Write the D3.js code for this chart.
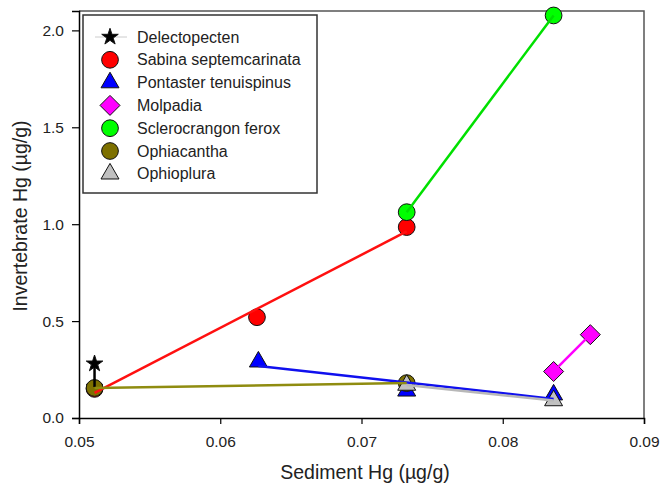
<!DOCTYPE html>
<html>
<head>
<meta charset="utf-8">
<script src="https://cdn.jsdelivr.net/npm/d3@7"></script>
<style>
  body { margin: 0; background: #fff; }
  text { font-family: "Liberation Sans", Arial, sans-serif; }
</style>
</head>
<body>
<script>
// Species in legend order
var species = ["Delectopecten", "Sabina septemcarinata", "Pontaster tenuispinus",
               "Molpadia", "Sclerocrangon ferox", "Ophiacantha", "Ophioplura"];

// Sediment Hg (x) and invertebrate Hg (y) per species
var delectoX = [0.0511, 0.0511];
var delectoY = [0.28, 0.16];
var sabinaX = [0.0511, 0.0626, 0.0732];
var sabinaY = [0.15, 0.52, 0.985];
var pontasterX = [0.0627, 0.0732, 0.0836];
var pontasterY = [0.29, 0.14, 0.12];
var molpadiaX = [0.0836, 0.0862];
var molpadiaY = [0.24, 0.43];
var scleroX = [0.0732, 0.0836];
var scleroY = [1.062, 2.077];
var ophiacanthaX = [0.0511, 0.0732];
var ophiacanthaY = [0.155, 0.18];
var ophioX = [0.0732, 0.0836];
var ophioY = [0.17, 0.09];

var xTicks = [0.05, 0.06, 0.07, 0.08, 0.09];
var yTicks = [0, 0.5, 1.0, 1.5, 2.0];

// square turned 45 degrees, like the reference diamonds
var symbolRhombus = {
  draw: function(ctx, size){
    var r = Math.sqrt(size / 2);
    ctx.moveTo(0, -r); ctx.lineTo(r, 0); ctx.lineTo(0, r); ctx.lineTo(-r, 0); ctx.closePath();
  }
};

var series = [
  {name: species[0], xs: delectoX, ys: delectoY, sym: d3.symbolStar, size: 85, fill: "#000", line: "#000"},
  {name: species[1], xs: sabinaX, ys: sabinaY, sym: d3.symbolCircle, size: 220, fill: "#ff0000", line: "#ff1010"},
  {name: species[2], xs: pontasterX, ys: pontasterY, sym: d3.symbolTriangle, size: 140, fill: "#0000ff", line: "#1010ee"},
  {name: species[3], xs: molpadiaX, ys: molpadiaY, sym: symbolRhombus, size: 200, fill: "#ff00ff", line: "#ff00ff"},
  {name: species[4], xs: scleroX, ys: scleroY, sym: d3.symbolCircle, size: 220, fill: "#00ff00", line: "#00e000"},
  {name: species[5], xs: ophiacanthaX, ys: ophiacanthaY, sym: d3.symbolCircle, size: 220, fill: "#7d7000", line: "#8f8c10"},
  {name: species[6], xs: ophioX, ys: ophioY, sym: d3.symbolTriangle, size: 140, fill: "#c0c0c0", line: "#b8b8b8"}
];

var svg = d3.select("body").append("svg").attr("width", 660).attr("height", 485);

var mLeft = 79, mRight = 644, mTop = 11, mBottom = 418;
var x = d3.scaleLinear().domain([0.05, 0.09]).range([mLeft, mRight]);
var y = d3.scaleLinear().domain([0, 2.1]).range([mBottom, mTop]);

// frame (top and right)
svg.append("path")
  .attr("d", "M" + mLeft + "," + mTop + "H" + mRight + "V" + mBottom)
  .attr("fill", "none").attr("stroke", "#555").attr("stroke-width", 1.5);

var xAxis = svg.append("g").attr("transform", "translate(0," + mBottom + ")")
  .call(d3.axisBottom(x).tickValues(xTicks).tickFormat(d3.format(".2f")).tickSizeOuter(0).tickSize(6).tickPadding(12));
var yAxis = svg.append("g").attr("transform", "translate(" + mLeft + ",0)")
  .call(d3.axisLeft(y).tickValues(yTicks).tickFormat(d3.format(".1f")).tickSizeOuter(0).tickSize(7).tickPadding(8));
[xAxis, yAxis].forEach(function(a){
  a.select(".domain").attr("stroke", "#000").attr("stroke-width", 1.5);
  a.selectAll(".tick line").attr("stroke", "#000").attr("stroke-width", 1.2);
  a.selectAll("text").attr("font-size", 15.5).attr("fill", "#222")
   .style("font-family", "'Liberation Sans', Arial, sans-serif");
});

// least-squares fit line across each series' x range
function fitLine(s){
  var n = s.xs.length;
  var xmin = d3.min(s.xs), xmax = d3.max(s.xs);
  if (xmin === xmax) {
    return [[xmin, d3.max(s.ys)], [xmax, d3.min(s.ys)]];
  }
  var mx = d3.mean(s.xs), my = d3.mean(s.ys);
  var sxy = 0, sxx = 0;
  for (var i = 0; i < n; ++i){
    sxy += (s.xs[i] - mx) * (s.ys[i] - my);
    sxx += (s.xs[i] - mx) * (s.xs[i] - mx);
  }
  var b = sxy / sxx, a = my - b * mx;
  return [[xmin, a + b * xmin], [xmax, a + b * xmax]];
}

var plot = svg.append("g");
series.forEach(function(s){
  plot.selectAll(null)
    .data(d3.zip(s.xs, s.ys))
    .enter().append("path")
    .attr("d", d3.symbol().type(s.sym).size(s.size))
    .attr("transform", function(d){ return "translate(" + x(d[0]) + "," + y(d[1]) + ")"; })
    .attr("fill", s.fill)
    .attr("stroke", "#111")
    .attr("stroke-width", 1);
});
var line = d3.line().x(function(d){ return x(d[0]); }).y(function(d){ return y(d[1]); });
series.forEach(function(s){
  plot.append("path")
    .attr("d", line(fitLine(s)))
    .attr("fill", "none")
    .attr("stroke", s.line)
    .attr("stroke-width", 2.5);
});

// legend
var legend = svg.append("g");
legend.append("rect")
  .attr("x", 83).attr("y", 15).attr("width", 234).attr("height", 178)
  .attr("fill", "#fff").attr("stroke", "#333").attr("stroke-width", 1.5);
legend.append("line")
  .attr("x1", 95).attr("x2", 127).attr("y1", 37).attr("y2", 37)
  .attr("stroke", "#ccc").attr("stroke-width", 1);
series.forEach(function(s, i){
  var ly = 37 + i * 22.8;
  legend.append("path")
    .attr("d", d3.symbol().type(s.sym).size(s.size))
    .attr("transform", "translate(110," + ly + ")")
    .attr("fill", s.fill).attr("stroke", "#111").attr("stroke-width", 1);
  legend.append("text")
    .attr("x", 137).attr("y", ly + 5.5)
    .attr("font-size", 16).attr("fill", "#222")
    .text(s.name);
});

// axis titles
svg.append("text")
  .attr("x", 365).attr("y", 479)
  .attr("text-anchor", "middle").attr("font-size", 19.5).attr("fill", "#222")
  .text("Sediment Hg (\u00b5g/g)");
svg.append("text")
  .attr("transform", "translate(27,216) rotate(-90)")
  .attr("text-anchor", "middle").attr("font-size", 19.5).attr("fill", "#222")
  .text("Invertebrate Hg (\u00b5g/g)");
</script>
</body>
</html>
